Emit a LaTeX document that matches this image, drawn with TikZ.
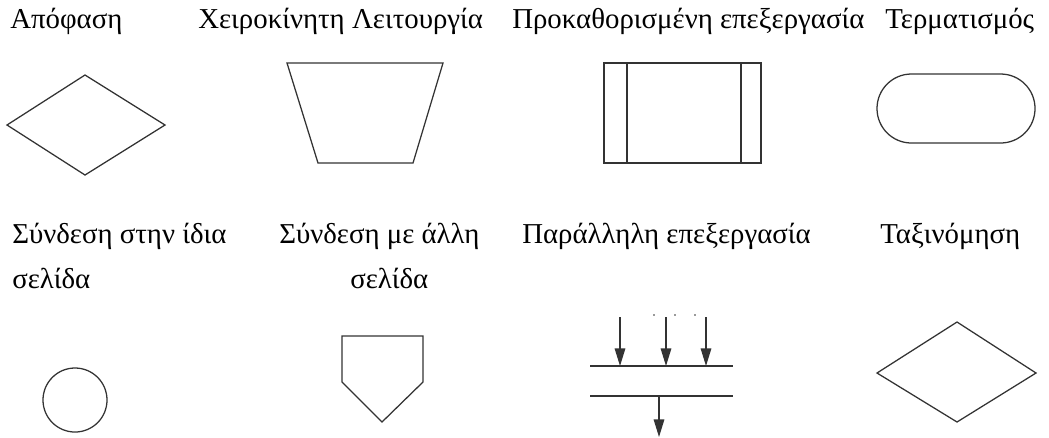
\documentclass[tikz,border=0pt]{standalone}
\usepackage{fontspec}
\setmainfont{Liberation Serif}
\usetikzlibrary{arrows.meta}

\begin{document}
\begin{tikzpicture}[x=0.025cm,y=-0.025cm,
    every node/.style={font=\fontsize{20.5}{24}\selectfont,anchor=base west,inner sep=0pt},
    symbol/.style={draw=black!80,line width=0.9pt},
    flow/.style={symbol,-{Triangle[length=12.5pt,width=7.5pt]}}]
  \useasboundingbox (0,0) rectangle (1049,437);
  % labels, first row
  \node (apofasi) at (10,28) {Απόφαση};
  \node (xeiro) at (198,28) {Χειροκίνητη Λειτουργία};
  \node (prokath) at (512,28) {Προκαθορισμένη επεξεργασία};
  \node (termat) at (885,28) {Τερματισμός};
  % labels, second row
  \node (idia) at (12,243) {Σύνδεση στην ίδια};
  \node (idia2) at (12,288) {σελίδα};
  \node (alli) at (279,243) {Σύνδεση με άλλη};
  \node (alli2) at (350,288) {σελίδα};
  \node (parall) at (522,243) {Παράλληλη επεξεργασία};
  \node (taxin) at (880,243) {Ταξινόμηση};
  % symbols, first row
  \draw[symbol] (7,125) -- (85,75) -- (165,125) -- (85,175) -- cycle;
  \draw[symbol] (287,63) -- (443,63) -- (413,163) -- (318,163) -- cycle;
  \draw[symbol] (604,63) rectangle (761,163);
  \draw[symbol] (627,63) -- (627,163) (741,63) -- (741,163);
  \draw[symbol,rounded corners=0.86cm] (877,74) rectangle (1035,143);
  % symbols, second row
  \draw[symbol] (75,400) circle (0.8cm);
  \draw[symbol] (342,336) -- (423,336) -- (423,382) -- (382,422) -- (342,382) -- cycle;
  \draw[symbol] (877,373) -- (957,322) -- (1036,373) -- (957,422) -- cycle;
  % parallel processing
  \draw[symbol] (590,366) -- (733,366);
  \draw[symbol] (590,396) -- (733,396);
  \foreach \i/\x in {1/620,2/666,3/706}{
      \coordinate (in\i) at (\x,317);
      \coordinate (bar\i) at (\x,366);
      \draw[flow] (in\i) -- (bar\i);
  }
  \foreach \x in {654,675,695}{
      \fill[black!80] (\x,315) circle (0.6pt);
  }
  \coordinate (outtop) at (659,396);
  \coordinate (outend) at (659,437);
  \draw[flow] (outtop) -- (outend);
\end{tikzpicture}
\end{document}
